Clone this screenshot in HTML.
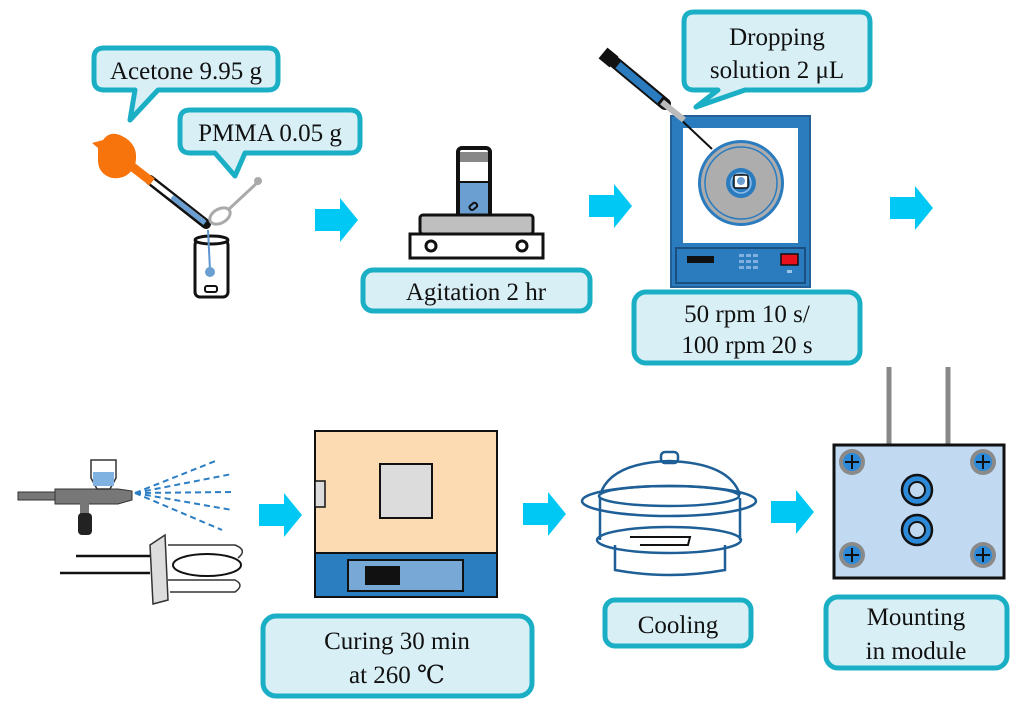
<!DOCTYPE html>
<html><head><meta charset="utf-8"><style>
html,body{margin:0;padding:0;background:#fff}
svg{display:block}
text{font-family:"Liberation Serif","DejaVu Serif",serif;fill:#111}
</style></head><body>
<svg width="1024" height="714" viewBox="0 0 1024 714" xmlns="http://www.w3.org/2000/svg">
<defs>
<g id="arr"><path d="M0,-11 H25 V-22 L43,0 L25,22 V11 H0 Z" fill="#00c8f4"/></g>
</defs>
<g stroke="#1aafc5" stroke-width="5" fill="#d8eff6" stroke-linejoin="round">
<path d="M104,48 H268 Q278,48 278,58 V80 Q278,90 268,90 H158 L130,120 L135,90 H104 Q94,90 94,80 V58 Q94,48 104,48 Z"/>
<path d="M190,110 H350 Q360,110 360,120 V143 Q360,153 350,153 H245 L235,176 L215,153 H190 Q180,153 180,143 V120 Q180,110 190,110 Z"/>
<path d="M694,12 H860 Q870,12 870,22 V80 Q870,90 860,90 H745 L696,107 L718,90 H694 Q684,90 684,80 V22 Q684,12 694,12 Z"/>
<rect x="363" y="270" width="227" height="41" rx="10"/>
<rect x="634" y="292" width="226" height="71" rx="12"/>
<rect x="263" y="616" width="269" height="80" rx="13"/>
<rect x="605" y="600" width="146" height="46" rx="10"/>
<rect x="826" y="597" width="181" height="71" rx="12"/>
</g>
<g font-size="25" text-anchor="middle">
<text x="186" y="79">Acetone 9.95 g</text>
<text x="270" y="141">PMMA 0.05 g</text>
<text x="777" y="45">Dropping</text>
<text x="777" y="78">solution 2 μL</text>
<text x="476" y="300">Agitation 2 hr</text>
<text x="747" y="322">50 rpm 10 s/</text>
<text x="747" y="353">100 rpm 20 s</text>
<text x="397" y="649">Curing  30 min</text>
<text x="397" y="683">at 260 ℃</text>
<text x="678" y="633">Cooling</text>
<text x="916" y="625">Mounting</text>
<text x="916" y="659">in module</text>
</g>
<use href="#arr" x="315" y="220"/>
<use href="#arr" x="589" y="206"/>
<use href="#arr" x="890" y="208"/>
<use href="#arr" x="259" y="515"/>
<use href="#arr" x="523" y="514"/>
<use href="#arr" x="771" y="512"/>
<!-- dropper -->
<line x1="150" y1="180" x2="206" y2="224" stroke="#111" stroke-width="10" stroke-linecap="round"/>
<line x1="150" y1="180" x2="204" y2="222" stroke="#fff" stroke-width="5"/>
<line x1="172" y1="197" x2="205" y2="223" stroke="#6b9fd2" stroke-width="5"/>
<path d="M98,148 L92,143 L103,140 Q110,130 122,136 Q140,145 135,165 Q128,180 112,178 Q98,174 98,160 Z" fill="#f7730b"/>
<line x1="130" y1="165" x2="152" y2="182" stroke="#f7730b" stroke-width="9"/>
<!-- spoon -->
<line x1="258" y1="182" x2="228" y2="210" stroke="#aaa" stroke-width="3"/>
<circle cx="258" cy="181" r="4" fill="#aaa"/>
<ellipse cx="220" cy="216" rx="11" ry="7" fill="#fff" stroke="#aaa" stroke-width="3" transform="rotate(-30 220 216)"/>
<!-- beaker -->
<rect x="195" y="240" width="33" height="57" rx="5" fill="#fff" stroke="#111" stroke-width="3"/>
<ellipse cx="211.5" cy="240" rx="16.5" ry="4" fill="#fff" stroke="#111" stroke-width="3"/>
<line x1="208" y1="230" x2="210" y2="270" stroke="#5e96d0" stroke-width="2"/>
<circle cx="210" cy="272" r="5" fill="#6b9fd2"/>
<rect x="205" y="286" width="12" height="6" rx="2" fill="none" stroke="#111" stroke-width="2"/>
<!-- stirrer -->
<rect x="458" y="148" width="32" height="70" rx="4" fill="#fff" stroke="#111" stroke-width="4"/>
<rect x="460" y="152" width="28" height="10" fill="#888"/>
<rect x="460" y="182" width="28" height="34" fill="#6b9fd2"/>
<line x1="460" y1="182" x2="488" y2="182" stroke="#111" stroke-width="2"/>
<rect x="469" y="204" width="8" height="5" rx="2" transform="rotate(-40 473 206)" fill="#6b9fd2" stroke="#111" stroke-width="2"/>
<rect x="420" y="215" width="113" height="19" rx="3" fill="#bfbfbf" stroke="#111" stroke-width="3"/>
<rect x="410" y="234" width="133" height="24" fill="#fff" stroke="#111" stroke-width="3"/>
<circle cx="431" cy="246" r="5" fill="#fff" stroke="#111" stroke-width="3"/>
<circle cx="522" cy="246" r="5" fill="#fff" stroke="#111" stroke-width="3"/>
<!-- spin coater -->
<rect x="671" y="116" width="139" height="171" fill="#2b7bbf" stroke="#245f96" stroke-width="2"/>
<rect x="683" y="128" width="115" height="115" fill="#fff"/>
<rect x="676" y="248" width="129" height="35" fill="#2b7bbf" stroke="#1a4f80" stroke-width="2"/>
<rect x="687" y="256" width="27" height="7" fill="#111"/>
<g fill="#7fb0e0">
<rect x="739" y="254" width="5" height="3"/><rect x="746" y="254" width="5" height="3"/><rect x="753" y="254" width="5" height="3"/>
<rect x="739" y="260" width="5" height="3"/><rect x="746" y="260" width="5" height="3"/><rect x="753" y="260" width="5" height="3"/>
<rect x="739" y="266" width="5" height="3"/><rect x="746" y="266" width="5" height="3"/><rect x="753" y="266" width="5" height="3"/>
</g>
<rect x="781" y="254" width="17" height="11" fill="#e8101a" stroke="#111" stroke-width="1.5"/>
<rect x="787" y="270" width="5" height="3" fill="#9cc4ea"/>
<circle cx="741" cy="183" r="43" fill="#2b7bbf"/>
<circle cx="741" cy="183" r="40" fill="#adadad"/>
<circle cx="741" cy="183" r="36" fill="none" stroke="#2b7bbf" stroke-width="1.5"/>
<circle cx="741" cy="183" r="15" fill="#2b7bbf"/>
<circle cx="741" cy="183" r="10" fill="none" stroke="#8fbce8" stroke-width="1.5"/>
<rect x="734" y="175" width="14" height="13" rx="2" fill="#fff" stroke="#111" stroke-width="1.5"/>
<circle cx="741" cy="181" r="4" fill="#6b9fd2"/>
<!-- syringe -->
<line x1="660" y1="100" x2="712" y2="149" stroke="#111" stroke-width="2"/>
<line x1="612" y1="60" x2="665" y2="104" stroke="#111" stroke-width="12" stroke-linecap="round"/>
<line x1="618" y1="65" x2="660" y2="100" stroke="#2b7bbf" stroke-width="8"/>
<line x1="662" y1="102" x2="684" y2="120" stroke="#bbb" stroke-width="6"/>
<line x1="603" y1="53" x2="614" y2="62" stroke="#111" stroke-width="14"/>
<!-- airbrush -->
<rect x="18" y="492" width="40" height="8" fill="#777" stroke="#333" stroke-width="1"/>
<path d="M55,489 H118 L132,491 V500 L118,504 H55 Z" fill="#777" stroke="#333" stroke-width="1"/>
<path d="M91,460 H116 V478 L110,489 H97 L91,478 Z" fill="#fff" stroke="#333" stroke-width="1.5"/>
<rect x="93" y="472" width="21" height="14" fill="#7fb2e0"/>
<rect x="80" y="503" width="9" height="12" fill="#777"/>
<rect x="78" y="513" width="14" height="22" rx="4" fill="#222"/>
<g stroke="#2c7ec4" stroke-width="2" stroke-dasharray="6,4">
<line x1="135" y1="493" x2="218" y2="460"/><line x1="135" y1="493" x2="232" y2="474"/>
<line x1="135" y1="493" x2="232" y2="492"/><line x1="135" y1="493" x2="232" y2="510"/>
<line x1="135" y1="493" x2="222" y2="530"/>
</g>
<!-- holder -->
<line x1="76" y1="556" x2="160" y2="556" stroke="#111" stroke-width="2.5"/>
<line x1="60" y1="573" x2="150" y2="573" stroke="#111" stroke-width="2.5"/>
<path d="M150,545 L165,535 L168,600 L153,604 Z" fill="#ddd" stroke="#333" stroke-width="1.5"/>
<path d="M168,545 H235 Q248,550 238,558 M168,580 H235 Q245,585 235,592 H170" fill="none" stroke="#333" stroke-width="1.5"/>
<ellipse cx="207" cy="565" rx="34" ry="11" fill="#fff" stroke="#111" stroke-width="2"/>
<!-- oven -->
<rect x="315" y="431" width="182" height="122" fill="#fcdab2" stroke="#111" stroke-width="2"/>
<rect x="315" y="553" width="182" height="44" fill="#2b7fc0" stroke="#111" stroke-width="2"/>
<rect x="380" y="464" width="52" height="54" fill="#dcdcdc" stroke="#111" stroke-width="2"/>
<rect x="315" y="481" width="10" height="26" fill="#dcdcdc" stroke="#111" stroke-width="1.5"/>
<rect x="348" y="560" width="115" height="31" fill="#78a9d6" stroke="#111" stroke-width="2"/>
<rect x="365" y="566" width="35" height="19" fill="#111"/>
<!-- desiccator -->
<g fill="none" stroke="#1d5f96" stroke-width="2.5">
<rect x="661" y="452" width="17" height="11" rx="4"/>
<path d="M600,495 Q610,463 669,461 Q730,463 740,495"/>
<ellipse cx="669" cy="501" rx="87" ry="15"/>
<ellipse cx="669" cy="496" rx="70" ry="10"/>
<path d="M600,498 V540 M740,498 V540"/>
<ellipse cx="669" cy="540" rx="72" ry="13"/>
<path d="M615,545 V570 Q669,580 725,570 V545"/>
</g>
<path d="M630,537 H690 L688,545 H640" fill="none" stroke="#111" stroke-width="2"/>
<!-- module -->
<line x1="889" y1="367" x2="889" y2="445" stroke="#888" stroke-width="5"/>
<line x1="948" y1="367" x2="948" y2="445" stroke="#888" stroke-width="5"/>
<rect x="834" y="445" width="170" height="133" fill="#c1daf1" stroke="#111" stroke-width="3"/>
<g>
<g transform="translate(852,462)"><circle r="13" fill="#8a8a8a"/><circle r="9" fill="#2c8ad8"/><path d="M-7,0H7M0,-7V7" stroke="#111" stroke-width="2"/></g>
<g transform="translate(983,462)"><circle r="13" fill="#8a8a8a"/><circle r="9" fill="#2c8ad8"/><path d="M-7,0H7M0,-7V7" stroke="#111" stroke-width="2"/></g>
<g transform="translate(852,555)"><circle r="13" fill="#8a8a8a"/><circle r="9" fill="#2c8ad8"/><path d="M-7,0H7M0,-7V7" stroke="#111" stroke-width="2"/></g>
<g transform="translate(983,555)"><circle r="13" fill="#8a8a8a"/><circle r="9" fill="#2c8ad8"/><path d="M-7,0H7M0,-7V7" stroke="#111" stroke-width="2"/></g>
</g>
<circle cx="917" cy="490" r="15" fill="#2c8ad8" stroke="#111" stroke-width="2.5"/>
<circle cx="917" cy="490" r="8" fill="#c1daf1" stroke="#111" stroke-width="2"/>
<circle cx="917" cy="530" r="15" fill="#2c8ad8" stroke="#111" stroke-width="2.5"/>
<circle cx="917" cy="530" r="8" fill="#c1daf1" stroke="#111" stroke-width="2"/>
</svg>
</body></html>
